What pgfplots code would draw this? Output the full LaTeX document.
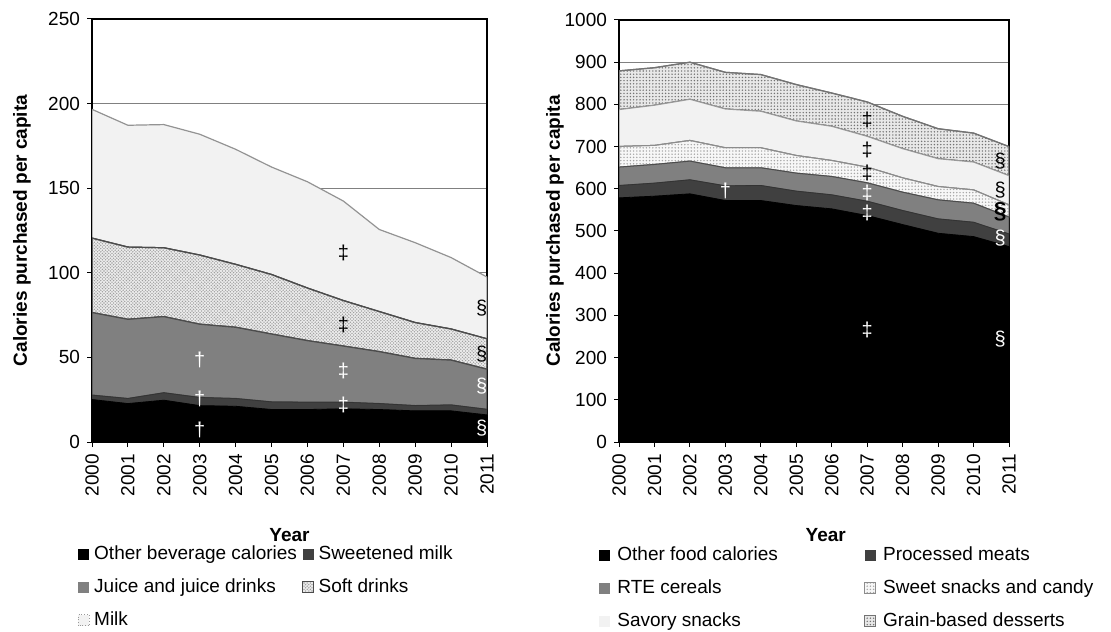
\documentclass[border=0pt]{standalone}
\usepackage{pgfplots}
\pgfplotsset{compat=1.18}
\usepackage{fontspec}
\setmainfont{Liberation Sans}
\usetikzlibrary{patterns}

\definecolor{cA}{HTML}{000000}
\definecolor{cB}{HTML}{404040}
\definecolor{cC}{HTML}{808080}
\definecolor{cE}{HTML}{F2F2F2}

\pgfdeclarepatternformonly{fdots}{\pgfqpoint{-0.5pt}{-0.5pt}}{\pgfqpoint{0.5pt}{0.5pt}}{\pgfqpoint{1.6pt}{1.6pt}}%
 {\pgfpathcircle{\pgfqpoint{0pt}{0pt}}{0.4pt}\pgfusepath{fill}}
\pgfdeclarepatternformonly{fcdots}{\pgfqpoint{-0.5pt}{-0.5pt}}{\pgfqpoint{1.7pt}{1.7pt}}{\pgfqpoint{1.6pt}{1.6pt}}%
 {\pgfpathcircle{\pgfqpoint{0pt}{0pt}}{0.38pt}\pgfpathcircle{\pgfqpoint{0.8pt}{0.8pt}}{0.38pt}\pgfusepath{fill}}

\newcommand{\fs}{\fontsize{9.5}{11}\selectfont}
\newcommand{\fa}{\fontsize{11.5}{13}\selectfont}

\pgfplotsset{
  common/.style={
    scale only axis,
    xmin=2000, xmax=2011,
    xtick={2000,2001,...,2011},
    ymin=0,
    stack plots=y,
    tick pos=left,
    tick align=outside,
    major tick length=2.5pt,
    tick style={black, line width=0.5pt},
    axis line style={black, line width=0.6pt},
    ymajorgrids,
    grid style={cC, line width=0.5pt},
    /pgf/number format/1000 sep={},
    /pgf/number format/assume math mode=true,
    ticklabel style={font=\fs},
    xticklabel style={rotate=90, anchor=east},
    label style={font=\bfseries\fs},
    legend cell align=left,
    area legend,
    legend image code/.code={\path[#1,draw=none] (0pt,-2.75pt) rectangle (5.5pt,2.75pt);},
    legend style={draw=none, fill=none, inner sep=0pt, font=\fs, anchor=north west,
      nodes={inner sep=1pt, text height=7pt, text depth=2pt},
      /tikz/row sep=5.5pt},
    legend columns=2,
  },
  annot/.style={
    scale only axis, hide axis, clip=false,
    xmin=2000, xmax=2011, ymin=0,
    every node/.append style={inner sep=0pt, font=\fa},
  },
}

\begin{document}
\begin{tikzpicture}
\useasboundingbox (0,0) rectangle (555.5pt,315.5pt);

% ---------------- Beverages ----------------
\begin{axis}[common,
  at={(46pt,94.5pt)}, anchor=south west,
  width=197.5pt, height=211.5pt,
  ymax=250, ytick={0,50,...,250},
  xlabel={Year}, ylabel={Calories purchased per capita},
  xlabel style={at={(axis description cs:0.5,-0.22)}, anchor=center},
  ylabel style={at={(axis description cs:-0.177,0.5)}, anchor=center},
  legend style={at={(0,0)}, xshift=-7.2pt, yshift=-50.4pt,
    /tikz/every odd column/.append style={column sep=1.2pt},
    /tikz/every even column/.append style={column sep=1.5pt}},
]
\addplot[fill=cA, draw=cA] coordinates {
 (2000,25.1) (2001,22.7) (2002,24.7) (2003,21.5) (2004,21.1) (2005,19.2)
 (2006,19.2) (2007,19.6) (2008,19.2) (2009,18.4) (2010,18.4) (2011,16.0)} \closedcycle;
\addlegendentry{Other beverage calories}
\addplot[fill=cB, draw=black!80] coordinates {
 (2000,2.6) (2001,3.0) (2002,4.4) (2003,4.8) (2004,4.6) (2005,4.5)
 (2006,4.3) (2007,3.9) (2008,3.5) (2009,3.1) (2010,3.5) (2011,3.3)} \closedcycle;
\addlegendentry{Sweetened milk}
\addplot[fill=cC, draw=black!70, line width=0.6pt] coordinates {
 (2000,48.8) (2001,46.8) (2002,45.0) (2003,43.3) (2004,42.1) (2005,40.1)
 (2006,36.4) (2007,33.2) (2008,30.7) (2009,27.9) (2010,26.5) (2011,23.7)} \closedcycle;
\addlegendentry{Juice and juice drinks}
\addplot[fill=gray!14, draw=black!70, line width=0.6pt,
  postaction={pattern=fcdots, pattern color=gray!75}] coordinates {
 (2000,44.0) (2001,42.7) (2002,40.7) (2003,40.9) (2004,37.2) (2005,35.2)
 (2006,31.1) (2007,26.9) (2008,23.7) (2009,21.2) (2010,18.4) (2011,18.0)} \closedcycle;
\addlegendentry{Soft drinks}
\addplot[fill=cE, draw=gray!85, line width=0.6pt,
  legend image code/.code={\path[fill=cE, draw=gray!80, densely dotted, line width=0.4pt] (0pt,-2.75pt) rectangle (5.5pt,2.75pt);}] coordinates {
 (2000,76.1) (2001,72.0) (2002,72.8) (2003,71.4) (2004,68.0) (2005,63.5)
 (2006,62.8) (2007,58.8) (2008,48.5) (2009,47.2) (2010,42.2) (2011,36.5)} \closedcycle;
\addlegendentry{Milk}
\end{axis}

\begin{axis}[annot, at={(46pt,94.5pt)}, anchor=south west,
  width=197.5pt, height=211.5pt, ymax=250]
\node[text=white] at (axis cs:2003,48.4) {†};
\node[text=white] at (axis cs:2003,25.7) {†};
\node[text=white] at (axis cs:2003,6.9) {†};
\node[text=black] at (axis cs:2007,112) {‡};
\node[text=black] at (axis cs:2007,69.2) {‡};
\node[text=white] at (axis cs:2007,42) {‡};
\node[text=white] at (axis cs:2007,21.7) {‡};
\node[text=black] at (axis cs:2010.85,79) {§};
\node[text=black] at (axis cs:2010.85,52) {§};
\node[text=white] at (axis cs:2010.85,33) {§};
\node[text=white] at (axis cs:2010.85,8) {§};
\end{axis}

% ---------------- Foods ----------------
\begin{axis}[common,
  at={(309.5pt,94.5pt)}, anchor=south west,
  width=195pt, height=211pt,
  ymax=1000, ytick={0,100,...,1000},
  xlabel={Year}, ylabel={Calories purchased per capita},
  xlabel style={at={(axis description cs:0.53,-0.22)}, anchor=center},
  ylabel style={at={(axis description cs:-0.164,0.5)}, anchor=center},
  legend style={at={(0,0)}, xshift=-10pt, yshift=-50.9pt,
    /tikz/every odd column/.append style={column sep=2.5pt},
    /tikz/every even column/.append style={column sep=42pt}},
]
\addplot[fill=cA, draw=cA] coordinates {
 (2000,578.5) (2001,582.5) (2002,588.0) (2003,572.2) (2004,572.2) (2005,560.3)
 (2006,552.4) (2007,536.6) (2008,515.2) (2009,494.6) (2010,486.7) (2011,463.0)} \closedcycle;
\addlegendentry{Other food calories}
\addplot[fill=cB, draw=black!80] coordinates {
 (2000,29.3) (2001,30.9) (2002,33.3) (2003,34.8) (2004,35.6) (2005,34.1)
 (2006,33.3) (2007,34.0) (2008,33.3) (2009,34.1) (2010,34.0) (2011,30.0)} \closedcycle;
\addlegendentry{Processed meats}
\addplot[fill=cC, draw=black!70, line width=0.5pt] coordinates {
 (2000,43.6) (2001,44.3) (2002,44.3) (2003,42.8) (2004,42.0) (2005,42.7)
 (2006,43.5) (2007,43.6) (2008,43.5) (2009,45.1) (2010,45.2) (2011,40.0)} \closedcycle;
\addlegendentry{RTE cereals}
\addplot[fill=gray!6, draw=gray!90, line width=0.5pt,
  postaction={pattern=fdots, pattern color=gray!70}] coordinates {
 (2000,49.1) (2001,45.2) (2002,49.1) (2003,47.5) (2004,47.5) (2005,41.9)
 (2006,38.0) (2007,37.2) (2008,34.0) (2009,31.7) (2010,31.6) (2011,29.0)} \closedcycle;
\addlegendentry{Sweet snacks and candy}
\addplot[fill=cE, draw=gray!80, line width=0.5pt] coordinates {
 (2000,87.1) (2001,95.0) (2002,97.3) (2003,91.7) (2004,86.3) (2005,81.6)
 (2006,80.8) (2007,72.8) (2008,69.0) (2009,65.7) (2010,65.8) (2011,69.0)} \closedcycle;
\addlegendentry{Savory snacks}
\addplot[fill=gray!18, draw=gray!90!black, line width=0.6pt,
  postaction={pattern=fdots, pattern color=gray!90!black}] coordinates {
 (2000,91.8) (2001,89.1) (2002,88.0) (2003,87.0) (2004,87.1) (2005,86.4)
 (2006,79.0) (2007,81.6) (2008,76.7) (2009,71.2) (2010,68.7) (2011,69.0)} \closedcycle;
\addlegendentry{Grain-based desserts}
\end{axis}

\begin{axis}[annot, at={(309.5pt,94.5pt)}, anchor=south west,
  width=195pt, height=211pt, ymax=1000]
\node[text=white] at (axis cs:2003,595) {†};
\node[text=black] at (axis cs:2007,764) {‡};
\node[text=black] at (axis cs:2007,692) {‡};
\node[text=black] at (axis cs:2007,637) {‡};
\node[text=white] at (axis cs:2007,590) {‡};
\node[text=white] at (axis cs:2007,543) {‡};
\node[text=white] at (axis cs:2007,265) {‡};
\node[text=black] at (axis cs:2010.75,666) {§};
\node[text=black] at (axis cs:2010.75,598) {§};
\node[text=black, font=\bfseries\fa] at (axis cs:2010.75,546) {§};
\node[text=white] at (axis cs:2010.75,482) {§};
\node[text=white] at (axis cs:2010.75,243) {§};
\end{axis}
\end{tikzpicture}
\end{document}
